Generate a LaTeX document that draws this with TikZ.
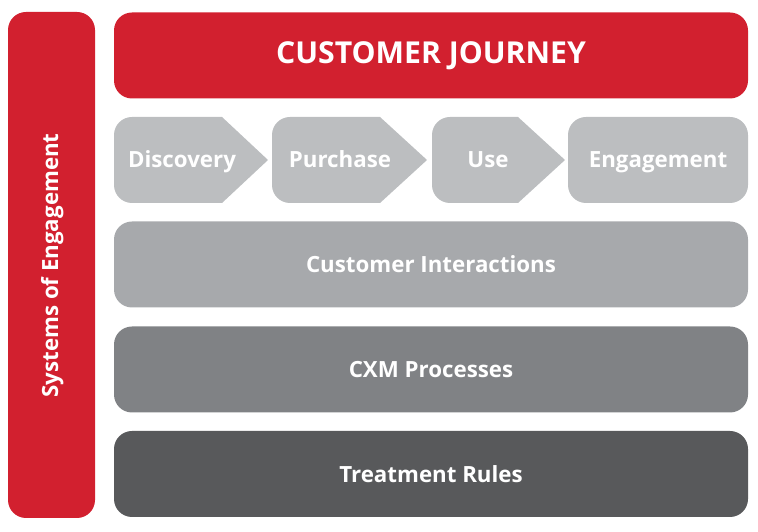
\documentclass[tikz,border=0pt]{standalone}
\usepackage{fontspec}
\setmainfont{Open Sans}
\definecolor{cxred}{HTML}{D2202F}
\definecolor{chevgray}{HTML}{BCBEC0}
\definecolor{intgray}{HTML}{A7A9AC}
\definecolor{cxmgray}{HTML}{808285}
\definecolor{trgray}{HTML}{58595B}
\tikzset{
  bar/.style={rounded corners=18pt, minimum width=634pt, minimum height=86pt, inner sep=0pt, text=white, font=\bfseries\fontsize{22.3}{26}\selectfont},
  lbl/.style={text=white, font=\bfseries\fontsize{22.3}{26}\selectfont, inner sep=0pt, text height=16pt, text depth=3pt},
}
\newcommand\chevshape[3]{%
  \fill[chevgray] (#3,372) -- (#2,415) -- ({#1+18},415) arc[start angle=90,end angle=180,radius=18pt] -- (#1,347) arc[start angle=180,end angle=270,radius=18pt] -- (#2,329) -- cycle;}
\begin{document}
\begin{tikzpicture}[x=1pt,y=1pt]
\useasboundingbox (0,0) rectangle (758,532);
% left bar
\node[fill=cxred, rounded corners=18pt, minimum width=87pt, minimum height=506pt, inner sep=0pt] (soe) at (51.5,267) {};
\node[lbl, rotate=90] (soetext) at (51.5,266.5) {Systems of Engagement};
% title
\node[bar, fill=cxred, font=\bfseries\fontsize{30.2}{36}\selectfont] (title) at (431,476.5) {CUSTOMER JOURNEY};
% chevrons
\chevshape{114}{222}{268}
\chevshape{272}{380}{427}
\chevshape{432}{518}{565}
\node[fill=chevgray, rounded corners=18pt, minimum width=180pt, minimum height=86pt, inner sep=0pt] (engbox) at (658,372) {};
\node[lbl] (disc) at (182,370.5) {Discovery};
\node[lbl] (purch) at (340,370.5) {Purchase};
\node[lbl] (use) at (488,370.5) {Use};
\node[lbl] (eng) at (658,370.5) {Engagement};
% layers
\node[bar, fill=intgray] (inter) at (431,267.5) {Customer Interactions};
\node[bar, fill=cxmgray] (cxm) at (431,162.5) {CXM Processes};
\node[bar, fill=trgray] (treat) at (431,58) {Treatment Rules};
\end{tikzpicture}
\end{document}
